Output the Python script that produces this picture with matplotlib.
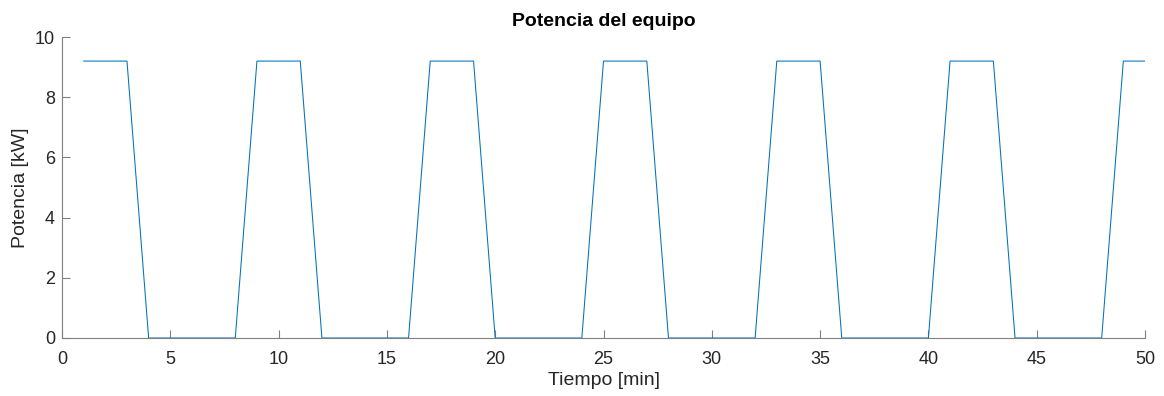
import matplotlib
matplotlib.use("Agg")
import matplotlib.pyplot as plt

tiempo_min = list(range(1, 51))
potencia_kw = [9.2, 9.2, 9.2, 0, 0, 0, 0, 0,
               9.2, 9.2, 9.2, 0, 0, 0, 0, 0,
               9.2, 9.2, 9.2, 0, 0, 0, 0, 0,
               9.2, 9.2, 9.2, 0, 0, 0, 0, 0,
               9.2, 9.2, 9.2, 0, 0, 0, 0, 0,
               9.2, 9.2, 9.2, 0, 0, 0, 0, 0,
               9.2, 9.2]
xticks = [0, 5, 10, 15, 20, 25, 30, 35, 40, 45, 50]
yticks = [0, 2, 4, 6, 8, 10]

plt.rcParams['font.family'] = ['Liberation Sans', 'DejaVu Sans']

fig = plt.figure(figsize=(11.64, 3.96), dpi=100)
ax = fig.add_axes([62/1164, 58/396, (1145-62)/1164, (338-37)/396])
ax.plot(tiempo_min, potencia_kw, color='#0072BD', lw=0.75)
ax.set_xlim(0, 50)
ax.set_ylim(0, 10)
ax.set_xticks(xticks)
ax.set_yticks(yticks)
for s in ['top', 'right']:
    ax.spines[s].set_visible(False)
for s in ['left', 'bottom']:
    ax.spines[s].set_color('#808080')
    ax.spines[s].set_linewidth(0.8)
ax.tick_params(direction='in', length=6, width=0.8, color='#808080',
               labelsize=13, labelcolor='#262626')
ax.tick_params(axis='x', pad=9)
ax.tick_params(axis='y', pad=5)
ax.set_xlabel('Tiempo [min]', fontsize=14, color='#262626', labelpad=3)
ax.set_ylabel('Potencia [kW]', fontsize=14, color='#262626', labelpad=4)
ax.set_title('Potencia del equipo', fontsize=14, fontweight='bold', color='black', pad=8)
fig.savefig('out.png', dpi=100)
